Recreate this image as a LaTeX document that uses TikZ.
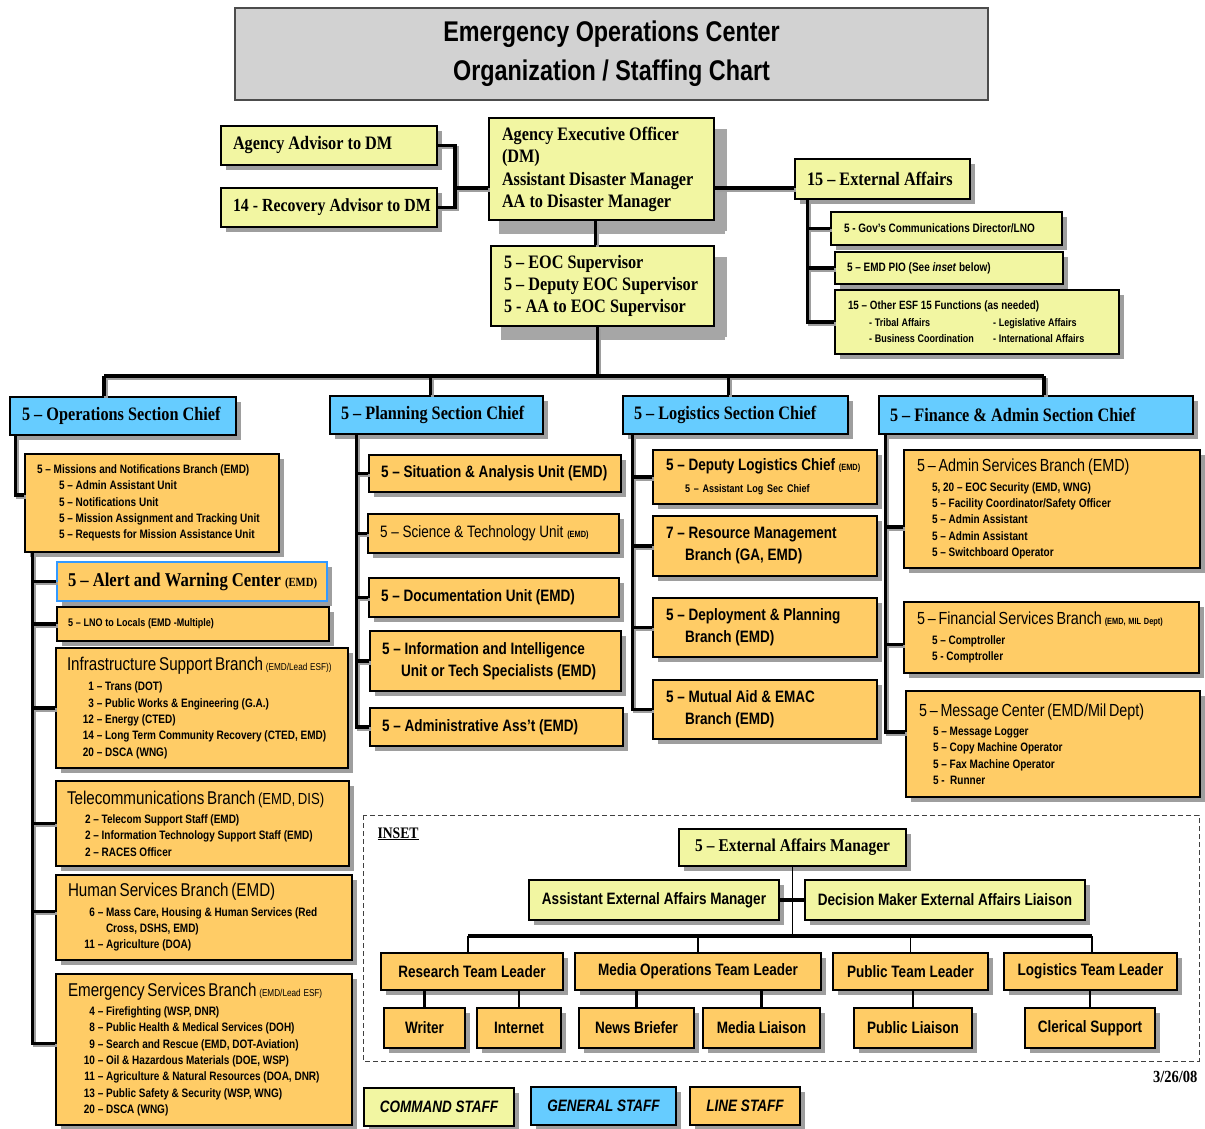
\documentclass[tikz,border=0pt]{standalone}
\usepackage{fontspec}
\newfontfamily\nsans[FakeStretch=0.82]{Liberation Sans}
\newfontfamily\nserif[FakeStretch=0.855]{Liberation Serif}
\usetikzlibrary{shadows,calc}
\hyphenpenalty=10000
\exhyphenpenalty=10000

\definecolor{cmdyellow}{HTML}{F2F6A2}
\definecolor{genblue}{HTML}{66CCFF}
\definecolor{lineorange}{HTML}{FFCC66}
\definecolor{titlegray}{HTML}{D2D2D2}
\definecolor{shadowgray}{HTML}{9E9E9E}
\definecolor{bigshadow}{HTML}{A6A6A6}
\definecolor{alertblue}{HTML}{3399FF}

\newcommand\fsz[2]{\fontsize{#1}{#2}\selectfont}
\newcommand\nm[1]{\makebox[11pt][r]{#1}}
\newcommand\bhead[1]{{\mdseries\fsz{18.5}{16}#1}}

% box given by its corners: [pad]{style}{name}{x1}{y1}{x2}{y2}{text}
\newcommand\chartbox[8][12]{%
  \pgfmathsetmacro\bw{#6-#4}%
  \pgfmathsetmacro\bh{#7-#5}%
  \pgfmathsetmacro\tw{#6-#4-2*#1}%
  \pgfmathsetmacro\cx{(#4+#6)/2}%
  \pgfmathsetmacro\cy{(#5+#7)/2}%
  \node[#2, minimum width=\bw pt, minimum height=\bh pt, inner xsep=#1pt,
        inner ysep=0pt, text width=\tw pt] (#3) at (\cx,\cy)
        {\spaceskip=\fontdimen2\font\xspaceskip=\fontdimen2\font\relax #8};}

\tikzset{
  base/.style={rectangle, draw=black, line width=1.2pt, align=left},
  sh/.style={general shadow={fill=shadowgray, shadow xshift=#1, shadow yshift=-#1}},
  sh/.default=5pt,
  heading/.style={base, draw=black!70, line width=1.4pt, fill=titlegray, align=center,
    font=\nsans\bfseries\fsz{28.5}{39}},
  cmd/.style={base, fill=cmdyellow, sh},
  cmdbig/.style={base, fill=cmdyellow},
  gen/.style={base, fill=genblue, sh},
  lstaff/.style={base, fill=lineorange, sh},
  alertbox/.style={lstaff, draw=alertblue},
  ctr/.style={align=center},
  serifhead/.style={font=\nserif\bfseries\fsz{19}{22}},
  sanshead/.style={font=\nsans\bfseries\fsz{16.5}{22}},
  sanslist/.style={font=\nsans\bfseries\fsz{12.2}{16.3}},
  keyfont/.style={font=\nsans\bfseries\itshape\fsz{16.5}{18}},
  wire/.style={line width=3.5pt, black,
    preaction={draw=shadowgray, line width=3.5pt, transform canvas={shift={(2pt,-2pt)}}}},
  thinwire/.style={line width=1.8pt, black},
  dropwire/.style={line width=2.6pt, black},
  buswire/.style={line width=4.5pt, black},
  softshadow/.style={fill=bigshadow, draw=none},
}

\begin{document}
\begin{tikzpicture}[x=1pt, y=-1pt]
\useasboundingbox (0,0) rectangle (1205,1129);
\fill[white] (0,0) rectangle (1205,1129);

% ---------- title ----------
\chartbox[0]{heading}{titlebox}{235}{8}{988}{100}{Emergency Operations Center\\Organization / Staffing Chart}

% ---------- command staff ----------
\chartbox[12]{cmd,serifhead}{agency}{221}{126}{437}{165}{Agency Advisor to DM}
\chartbox[12]{cmd,serifhead}{recov}{221}{188}{437}{227}{\mbox{\fsz{18.5}{22}14 - Recovery Advisor to DM}}
\chartbox[13]{cmdbig,serifhead}{aeo}{489}{118}{714}{220}{Agency Executive Officer\\(DM)\\[1pt]Assistant Disaster Manager\\AA to Disaster Manager}
\chartbox[13]{cmdbig,serifhead}{eoc}{491}{246}{714}{326}{5 – EOC Supervisor\\5 – Deputy EOC Supervisor\\5 - AA to EOC Supervisor}
\chartbox[12]{cmd,serifhead}{ext}{795}{159}{970}{199}{15 – External Affairs}
\chartbox[13]{cmd,sanslist}{gov}{831}{212}{1062}{245}{5 - Gov’s Communications Director/LNO}
\chartbox[12]{cmd,sanslist}{pio}{835}{252}{1063}{284}{5 – EMD PIO (See \textit{inset} below)}
\chartbox[13]{cmd,sanslist}{other}{835}{290}{1119}{354}{{\fsz{12}{16.5}15 – Other ESF 15 Functions (as needed)}\\
  {\fsz{11}{16.5}\hspace*{21pt}\makebox[124pt][l]{- Tribal Affairs}- Legislative Affairs}\\
  {\fsz{11}{16.5}\hspace*{21pt}\makebox[124pt][l]{- Business Coordination}- International Affairs}}

% broad soft shadows along the right and lower sides of the two central boxes
\path[softshadow] ([xshift=0.6pt]aeo.north east) ++(0,12) rectangle ++(12,102);
\path[softshadow] ([yshift=-0.6pt]aeo.south west) ++(11,0) rectangle ++(226,13);
\path[softshadow] ([xshift=0.6pt]eoc.north east) ++(0,12) rectangle ++(12,80);
\path[softshadow] ([yshift=-0.6pt]eoc.south west) ++(11,0) rectangle ++(224,13);

% ---------- general staff ----------
\chartbox[12]{gen,serifhead}{ops}{10}{397}{236}{435}{5 – Operations Section Chief}
\chartbox[11]{gen,serifhead}{plan}{330}{396}{543}{434}{5 – Planning Section Chief}
\chartbox[11]{gen,serifhead}{logi}{623}{396}{848}{434}{5 – Logistics Section Chief}
\chartbox[11]{gen,serifhead}{fin}{879}{396}{1193}{434}{5 – Finance \& Admin Section Chief}

% ---------- operations ----------
\chartbox[12]{lstaff,sanslist}{miss}{25}{454}{279}{552}{5 – Missions and Notifications Branch (EMD)\\
  \hspace*{22pt}5 – Admin Assistant Unit\\
  \hspace*{22pt}5 – Notifications Unit\\
  \hspace*{22pt}5 – Mission Assignment and Tracking Unit\\
  \hspace*{22pt}5 – Requests for Mission Assistance Unit}
\chartbox[11]{alertbox,serifhead}{alert}{57}{562}{327}{601}{\mbox{\fsz{19.5}{22}5 – Alert and Warning Center {\fsz{12.5}{22}(EMD)}}}
\chartbox[11]{lstaff,sanslist}{lno}{57}{607}{329}{641}{{\fsz{11}{14}5 – LNO to Locals (EMD -Multiple)}}
\chartbox[11]{lstaff,sanslist}{infra}{56}{648}{348}{768}{\bhead{Infrastructure Support Branch} {\mdseries\fsz{10}{16}(EMD/Lead ESF))}\\[4pt]
  \hspace*{16pt}\nm{1} – Trans (DOT)\\
  \hspace*{16pt}\nm{3} – Public Works \& Engineering (G.A.)\\
  \hspace*{16pt}\nm{12} – Energy (CTED)\\
  \hspace*{16pt}\nm{14} – Long Term Community Recovery (CTED, EMD)\\
  \hspace*{16pt}\nm{20} – DSCA (WNG)}
\chartbox[11]{lstaff,sanslist}{telec}{56}{781}{349}{866}{\bhead{Telecommunications Branch} {\mdseries\fsz{16}{16}(EMD, DIS)}\\[3pt]
  \hspace*{18pt}2 – Telecom Support Staff (EMD)\\
  \hspace*{18pt}2 – Information Technology Support Staff (EMD)\\
  \hspace*{18pt}2 – RACES Officer}
\chartbox[12]{lstaff,sanslist}{human}{56}{875}{352}{960}{\bhead{Human Services Branch (EMD)}\\[3pt]
  \hspace*{16pt}\nm{6} – Mass Care, Housing \& Human Services (Red\\
  \hspace*{38pt}Cross, DSHS, EMD)\\
  \hspace*{16pt}\nm{11} – Agriculture (DOA)}
\chartbox[12]{lstaff,sanslist}{emerg}{56}{974}{352}{1125}{\bhead{Emergency Services Branch} {\mdseries\fsz{10}{16}(EMD/Lead ESF)}\\[3pt]
  \hspace*{16pt}\nm{4} – Firefighting (WSP, DNR)\\
  \hspace*{16pt}\nm{8} – Public Health \& Medical Services (DOH)\\
  \hspace*{16pt}\nm{9} – Search and Rescue (EMD, DOT-Aviation)\\
  \hspace*{16pt}\nm{10} – Oil \& Hazardous Materials (DOE, WSP)\\
  \hspace*{16pt}\nm{11} – Agriculture \& Natural Resources (DOA, DNR)\\
  \hspace*{16pt}\nm{13} – Public Safety \& Security (WSP, WNG)\\
  \hspace*{16pt}\nm{20} – DSCA (WNG)}

% ---------- planning ----------
\chartbox[12]{lstaff,sanshead}{sit}{369}{455}{621}{492}{5 – Situation \& Analysis Unit (EMD)}
\chartbox[12]{lstaff,sanshead}{sci}{368}{514}{619}{553}{{\mdseries 5 – Science \& Technology Unit} {\fsz{9}{22}(EMD)}}
\chartbox[12]{lstaff,sanshead}{doc}{369}{578}{619}{617}{5 – Documentation Unit (EMD)}
\chartbox[12]{lstaff,sanshead}{info}{370}{631}{621}{691}{5 – Information and Intelligence\\\hspace*{19pt}Unit or Tech Specialists (EMD)}
\chartbox[12]{lstaff,sanshead}{adm}{370}{708}{623}{746}{5 – Administrative Ass’t (EMD)}

% ---------- logistics ----------
\chartbox[13]{lstaff,sanshead}{dep}{653}{450}{877}{504}{{\fsz{16.5}{19}5 – Deputy Logistics Chief} {\fsz{9}{19}(EMD)}\\
  \hspace*{19pt}{\fsz{11}{19}5 – Assistant Log Sec Chief}\fsz{11}{19}}
\chartbox[13]{lstaff,sanshead}{res}{653}{516}{877}{576}{7 – Resource Management\\\hspace*{19pt}Branch (GA, EMD)}
\chartbox[13]{lstaff,sanshead}{dpl}{653}{598}{877}{657}{5 – Deployment \& Planning\\\hspace*{19pt}Branch (EMD)}
\chartbox[13]{lstaff,sanshead}{mut}{653}{680}{877}{739}{5 – Mutual Aid \& EMAC\\\hspace*{19pt}Branch (EMD)}

% ---------- finance ----------
\chartbox[13]{lstaff,sanslist}{adminb}{904}{450}{1200}{568}{{\mdseries\fsz{17.5}{16.3}5 – Admin Services Branch (EMD)}\\[3pt]
  \hspace*{15pt}5, 20 – EOC Security (EMD, WNG)\\
  \hspace*{15pt}5 – Facility Coordinator/Safety Officer\\
  \hspace*{15pt}5 – Admin Assistant\\
  \hspace*{15pt}5 – Admin Assistant\\
  \hspace*{15pt}5 – Switchboard Operator}
\chartbox[13]{lstaff,sanslist}{finsvc}{904}{602}{1199}{673}{{\mdseries\fsz{17.5}{16.3}5 – Financial Services Branch} {\fsz{9}{16.3}(EMD, MIL Dept)}\\[3pt]
  \hspace*{15pt}5 – Comptroller\\
  \hspace*{15pt}5 - Comptroller}
\chartbox[13]{lstaff,sanslist}{msgc}{906}{691}{1200}{797}{{\mdseries\fsz{17.5}{16.3}5 – Message Center (EMD/Mil Dept)}\\[3pt]
  \hspace*{14pt}5 – Message Logger\\
  \hspace*{14pt}5 – Copy Machine Operator\\
  \hspace*{14pt}5 – Fax Machine Operator\\
  \hspace*{14pt}5 -\ \ Runner}

% ---------- inset: external affairs ----------
\draw[gray!50!black, line width=1pt, dash pattern=on 5pt off 3pt] (363,815) rectangle (1199,1061);
\node[anchor=base west, font=\nserif\bfseries\fsz{16}{18}] (insetlabel) at (374,838) {\underline{INSET}};
\chartbox[6]{cmd,serifhead,ctr}{eam}{679}{829}{906}{866}{\fsz{18}{22}5 – External Affairs Manager}
\chartbox[6]{cmd,sanshead,ctr}{aeam}{529}{880}{779}{920}{Assistant External Affairs Manager}
\chartbox[6]{cmd,sanshead,ctr}{dmeal}{805}{880}{1085}{920}{Decision Maker External Affairs Liaison}
\chartbox[6]{lstaff,sanshead,ctr}{rtl}{381}{953}{563}{990}{Research Team Leader}
\chartbox[6]{lstaff,sanshead,ctr}{mtl}{575}{953}{821}{990}{Media Operations Team Leader}
\chartbox[6]{lstaff,sanshead,ctr}{ptl}{833}{953}{988}{990}{Public Team Leader}
\chartbox[6]{lstaff,sanshead,ctr}{ltl}{1004}{953}{1177}{990}{Logistics Team Leader}
\chartbox[4]{lstaff,sanshead,ctr}{writer}{384}{1008}{465}{1048}{Writer}
\chartbox[4]{lstaff,sanshead,ctr}{internet}{477}{1008}{561}{1048}{Internet}
\chartbox[4]{lstaff,sanshead,ctr}{news}{579}{1008}{694}{1048}{News Briefer}
\chartbox[4]{lstaff,sanshead,ctr}{mliaison}{703}{1008}{820}{1048}{Media Liaison}
\chartbox[4]{lstaff,sanshead,ctr}{pliaison}{854}{1008}{972}{1048}{Public Liaison}
\chartbox[4]{lstaff,sanshead,ctr}{clerical}{1025}{1008}{1155}{1048}{Clerical Support}

% ---------- date and key ----------
\node[anchor=base east, font=\nserif\bfseries\fsz{17}{20}] (date) at (1201,1082) {3/26/08};
\chartbox[3]{cmd,keyfont,ctr}{cmdkey}{364}{1088}{514}{1126}{COMMAND STAFF}
\chartbox[3]{gen,keyfont,ctr}{genkey}{531}{1087}{676}{1125}{GENERAL STAFF}
\chartbox[3]{lstaff,keyfont,ctr}{linekey}{690}{1087}{800}{1125}{LINE STAFF}

% ---------- connectors: command staff ----------
\coordinate (lj) at (455,188);
\draw[wire] (agency.east) -| (lj) |- (recov.east);
\draw[wire] (lj) -- (lj -| aeo.west);
\draw[wire] ([yshift=-9pt]ext.west) -- ([yshift=-9pt]ext.west -| aeo.east);
\draw[wire] ([xshift=-6pt]aeo.south) -- ([xshift=-6pt]aeo.south |- eoc.north);
\coordinate (et) at ([xshift=13pt]ext.south west);
\draw[wire] (et) |- (other.west);
\draw[wire] (gov.west) -- (gov.west -| et);
\draw[wire] (pio.west) -- (pio.west -| et);

% ---------- connectors: section bus ----------
\coordinate (bl) at (104,376);
\coordinate (br) at (1044,376);
\draw[wire] ([xshift=-5pt]eoc.south) -- ([xshift=-5pt]eoc.south |- bl);
\draw[wire] (bl) -- (br);
\draw[wire] (bl) -- (bl |- ops.north);
\draw[wire] ([xshift=-6pt]plan.north |- bl) -- ([xshift=-6pt]plan.north);
\draw[wire] ([xshift=-7pt]logi.north |- bl) -- ([xshift=-7pt]logi.north);
\draw[wire] (br) -- (br |- fin.north);

% ---------- connectors: operations ----------
\draw[wire] ([xshift=6pt]ops.south west) |- ([yshift=8pt]miss.west);
\coordinate (ot) at ([xshift=8pt]miss.south west);
\draw[wire] (ot) |- ([yshift=6pt]emerg.west);
\foreach \n in {alert,lno,infra,telec} \draw[wire] (\n.west) -- (\n.west -| ot);
\draw[wire] ([yshift=6pt]human.west) -- ([yshift=6pt]human.west -| ot);

% ---------- connectors: planning ----------
\coordinate (pt) at ([xshift=27pt]plan.south west);
\draw[wire] (pt) |- (adm.west);
\foreach \n in {sit,sci,doc,info} \draw[wire] (\n.west) -- (\n.west -| pt);

% ---------- connectors: logistics ----------
\coordinate (lt) at ([xshift=10pt]logi.south west);
\draw[wire] (lt) |- (mut.west);
\foreach \n in {dep,res,dpl} \draw[wire] (\n.west) -- (\n.west -| lt);

% ---------- connectors: finance ----------
\coordinate (ft) at ([xshift=7pt]fin.south west);
\draw[wire] (ft) |- ([yshift=12pt]msgc.west);
\draw[wire] ([yshift=-18pt]adminb.west) -- ([yshift=-18pt]adminb.west -| ft);
\draw[wire] ([yshift=-7pt]finsvc.west) -- ([yshift=-7pt]finsvc.west -| ft);

% ---------- connectors: inset ----------
\coordinate (il) at (468,936);
\coordinate (ir) at (1092,936);
\draw[thinwire] (eam.south) -- (eam.south |- il);
\draw[buswire] (aeam.east) -- (dmeal.west);
\draw[buswire] (il) -- (ir);
\draw[thinwire] (il) -- (il |- rtl.north);
\draw[thinwire] (mtl.north |- il) -- (mtl.north);
\draw[thinwire] (ptl.north |- il) -- (ptl.north);
\draw[thinwire] (ir) -- (ir |- ltl.north);
\draw[dropwire] (writer.north) -- (writer.north |- rtl.south);
\draw[dropwire] (internet.north) -- (internet.north |- rtl.south);
\draw[dropwire] (news.north) -- (news.north |- mtl.south);
\draw[dropwire] (mliaison.north) -- (mliaison.north |- mtl.south);
\draw[dropwire] (pliaison.north) -- (pliaison.north |- ptl.south);
\draw[dropwire] (clerical.north) -- (clerical.north |- ltl.south);
\end{tikzpicture}
\end{document}
